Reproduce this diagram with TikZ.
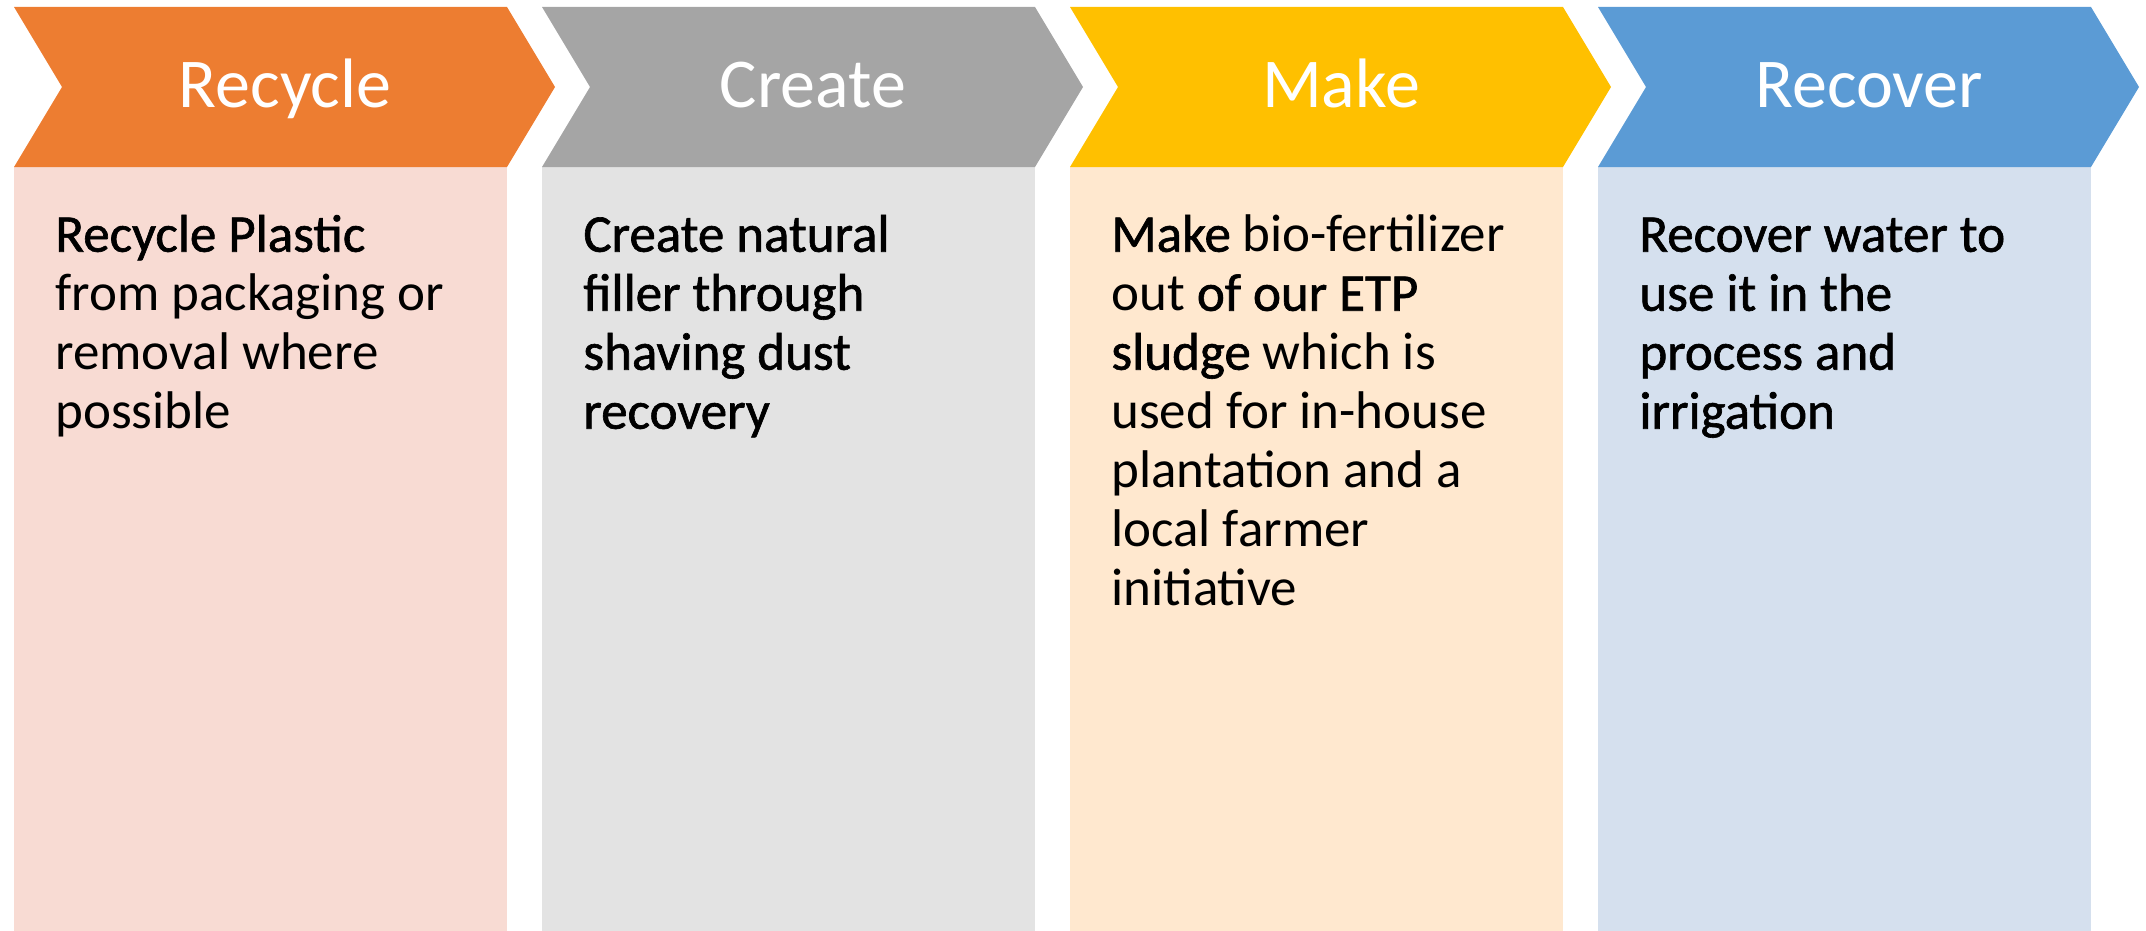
\documentclass[tikz,border=0pt]{standalone}
\usepackage{fontspec}
\setmainfont{Carlito}
\newfontfamily\emf[FakeBold=1.2]{Carlito}
\definecolor{corange}{HTML}{ED7D31}
\definecolor{cgray}{HTML}{A5A5A5}
\definecolor{cyellow}{HTML}{FFC000}
\definecolor{cblue}{HTML}{5B9BD5}
\definecolor{lorange}{HTML}{F8DBD3}
\definecolor{lgray}{HTML}{E3E3E3}
\definecolor{lyellow}{HTML}{FFE8CF}
\definecolor{lblue}{HTML}{D5E0EE}
\tikzset{
  titletext/.style={anchor=base, text=white, font=\fontsize{35pt}{40pt}\selectfont, inner sep=0pt},
  bodytext/.style={anchor=north west, align=left, text=black, inner sep=0pt, font=\fontsize{26.5pt}{29.5pt}\selectfont}
}
\begin{document}
\begin{tikzpicture}[x=0.5pt,y=-0.5pt]
\useasboundingbox (0,0) rectangle (2146,931);
\foreach \L/\dark/\light in {14/corange/lorange, 542/cgray/lgray, 1070/cyellow/lyellow, 1598/cblue/lblue}{
  \fill[\light] (\L,167) rectangle ({\L+493},931);
  \fill[\dark] (\L,7) -- ({\L+493},7) -- ({\L+541},87) -- ({\L+493},167) -- (\L,167) -- ({\L+48},87) -- cycle;
}
\node[titletext] (t1) at (285,108) {Recycle};
\node[titletext] (t2) at (813,108) {Create};
\node[titletext] (t3) at (1341,108) {Make};
\node[titletext] (t4) at (1869,108) {Recover};
\node[bodytext] (b1) at (55,210) {\strut{\emf Recycle Plastic}\\from packaging or\\removal where\\possible};
\node[bodytext] (b2) at (583,210) {\strut\emf Create natural\\\emf filler through\\\emf shaving dust\\\emf recovery};
\node[bodytext] (b3) at (1111,210) {\strut{\emf Make} bio-fertilizer\\out {\emf of our ETP}\\{\emf sludge} which is\\used for in-house\\plantation and a\\local farmer\\initiative};
\node[bodytext] (b4) at (1639,210) {\strut\emf Recover water to\\\emf use it in the\\\emf process and\\\emf irrigation};
\end{tikzpicture}
\end{document}
